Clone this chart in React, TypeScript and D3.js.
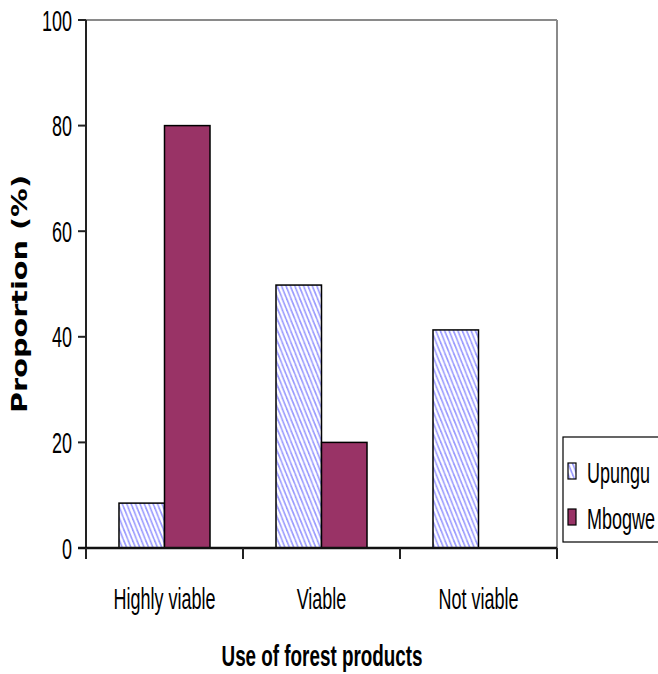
import React from "react";
import * as d3 from "d3";

const categories = ["Highly viable", "Viable", "Not viable"];
const seriesNames = ["Upungu", "Mbogwe"];
const upungu = [8.5, 49.8, 41.3];
const mbogwe = [80, 20, 0];
const yTicks = [0, 20, 40, 60, 80, 100];

const W = 658;
const H = 674;
const left = 86;
const right = 557;
const top = 20;
const bottom = 548;

const SX = 0.6;

function NText({ x, y, anchor = "middle", size = 30, sx = SX, weight = "normal", children }: any) {
  return (
    <text
      transform={`translate(${x},${y}) scale(${sx},1)`}
      textAnchor={anchor}
      fontFamily="'Liberation Sans', Arial, sans-serif"
      fontSize={size}
      fontWeight={weight}
      fill="#000"
    >
      {children}
    </text>
  );
}

export default function App() {
  const x = d3.scaleBand<string>().domain(categories).range([left, right]).paddingInner(0).paddingOuter(0);
  const xs = d3.scaleBand<string>().domain(seriesNames).range([0, x.bandwidth()]).paddingInner(0).paddingOuter(0.725);
  const y = d3.scaleLinear().domain([0, 100]).range([bottom, top]);
  const values = [upungu, mbogwe];
  const bounds = [left, ...categories.map((c) => (x(c) as number) + x.bandwidth())];

  return (
    <svg width={W} height={H} style={{ position: "absolute", left: 0, top: 0, background: "#fff" }}>
      <defs>
        <pattern id="hatch" patternUnits="userSpaceOnUse" width={4.4} height={11}>
          <rect width={4.4} height={11} fill="#fff" />
          <line x1={-4.4} y1={0} x2={0} y2={11} stroke="#9a9aff" strokeWidth={1.6} />
          <line x1={0} y1={0} x2={4.4} y2={11} stroke="#9a9aff" strokeWidth={1.6} />
          <line x1={4.4} y1={0} x2={8.8} y2={11} stroke="#9a9aff" strokeWidth={1.6} />
        </pattern>
      </defs>
      <rect x={0} y={0} width={W} height={H} fill="#fff" />
      {/* plot frame top/right */}
      <line x1={left} y1={top} x2={right} y2={top} stroke="#8a8a8a" strokeWidth={2} />
      <line x1={right} y1={top} x2={right} y2={bottom} stroke="#8a8a8a" strokeWidth={2} />

      {/* bars */}
      {seriesNames.map((s, si) =>
        categories.map((c, ci) => {
          const v = values[si][ci];
          if (v <= 0) return null;
          const bx = (x(c) as number) + (xs(s) as number);
          return (
            <rect
              key={s + c}
              x={bx}
              y={y(v)}
              width={xs.bandwidth()}
              height={bottom - y(v)}
              fill={si === 0 ? "url(#hatch)" : "#993366"}
              stroke="#000"
              strokeWidth={1.5}
            />
          );
        })
      )}

      {/* y axis */}
      <line x1={left} y1={top} x2={left} y2={bottom} stroke="#222" strokeWidth={2} />
      {yTicks.map((t) => (
        <g key={t}>
          <line x1={left - 8} y1={y(t)} x2={left} y2={y(t)} stroke="#222" strokeWidth={2} />
          <NText x={left - 14} y={y(t) + 10.5} anchor="end">
            {t}
          </NText>
        </g>
      ))}

      {/* x axis */}
      <line x1={left - 8} y1={bottom} x2={right} y2={bottom} stroke="#111" strokeWidth={2.5} />
      {bounds.map((b, i) => (
        <line key={i} x1={b} y1={bottom} x2={b} y2={bottom + 11} stroke="#222" strokeWidth={2} />
      ))}
      {categories.map((c) => (
        <NText key={c} x={(x(c) as number) + x.bandwidth() / 2} y={609}>
          {c}
        </NText>
      ))}

      {/* axis titles */}
      <NText x={322} y={666} size={29} sx={0.65} weight="bold">
        Use of forest products
      </NText>
      <text
        transform={`translate(27,294) rotate(-90)`}
        textAnchor="middle"
        fontFamily="'DejaVu Sans', Verdana, sans-serif"
        fontWeight="bold"
        fontSize={21}
        textLength={238}
        lengthAdjust="spacingAndGlyphs"
        fill="#000"
      >
        Proportion (%)
      </text>

      {/* legend */}
      <rect x={563} y={437} width={100} height={105} fill="#fff" stroke="#000" strokeWidth={1.2} />
      {seriesNames.map((s, i) => {
        const ly = 463 + i * 46;
        return (
          <g key={s}>
            <rect
              x={568}
              y={ly}
              width={8}
              height={16}
              fill={i === 0 ? "url(#hatch)" : "#993366"}
              stroke="#000"
              strokeWidth={1.2}
            />
            <NText x={587} y={ly + 20} anchor="start">
              {s}
            </NText>
          </g>
        );
      })}
    </svg>
  );
}
